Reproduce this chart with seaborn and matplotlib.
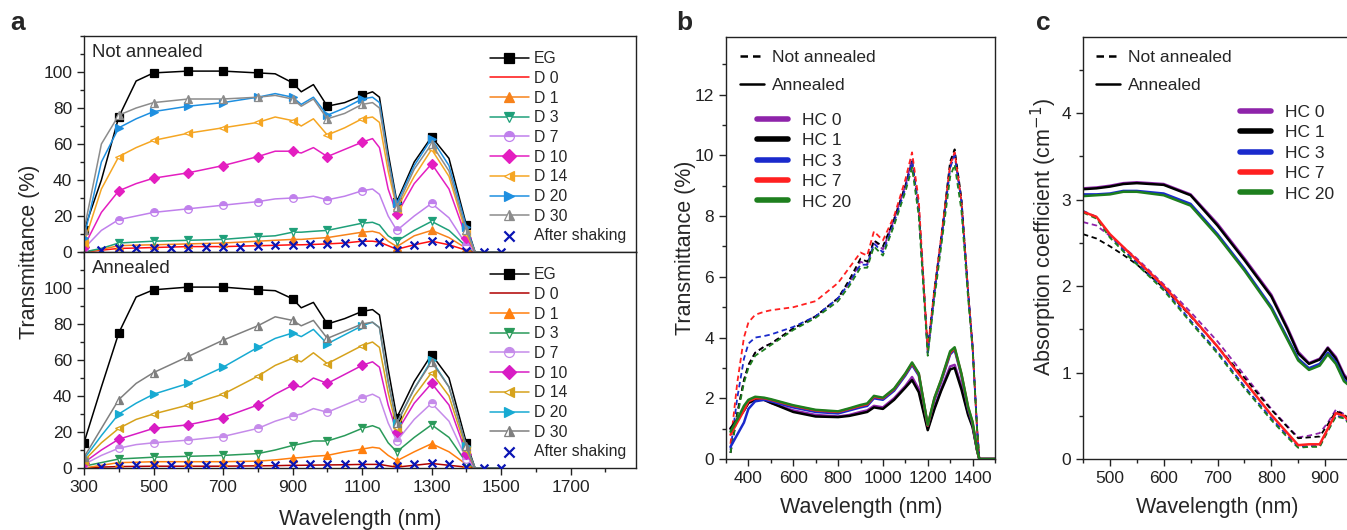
import matplotlib
matplotlib.use("Agg")
import matplotlib.pyplot as plt
from matplotlib.lines import Line2D
from matplotlib.ticker import MultipleLocator
import seaborn as sns

# ---------------- panel a : transmittance of the dye samples ----------------
wl_a = [300, 350, 400, 450, 500, 600, 700, 800, 850, 900, 925, 960, 1000, 1050,
        1100, 1130, 1150, 1175, 1200, 1250, 1300, 1350, 1400, 1425, 1450, 1500]
wl_shake = [350, 400, 450, 500, 550, 600, 650, 700, 750, 800, 850, 900, 950, 1000,
            1050, 1100, 1150, 1200, 1250, 1300, 1350, 1400, 1450, 1500]
labels_a = ['EG', 'D 0', 'D 1', 'D 3', 'D 7', 'D 10', 'D 14', 'D 20', 'D 30']

# not annealed
na_eg = [12, 40, 75, 95, 99.5, 100.5, 100.5, 99.5, 99, 94, 89, 93, 81, 83, 87, 89, 86, 55, 28, 50, 64, 52, 15, 0, 0, 0]
na_d0 = [0, 1, 2, 2.2, 2.5, 3, 3, 3.5, 3.7, 4, 4, 4.2, 4.5, 5, 6, 6, 5.5, 3.5, 1.5, 4, 6, 4, 1, 0, 0, 0]
na_d1 = [0, 1.5, 3.5, 3.8, 4, 4.5, 5, 6, 6.5, 7, 7, 7.5, 8, 9.5, 11, 11.5, 10.5, 6, 3, 9, 12, 8, 2, 0, 0, 0]
na_d3 = [0, 2, 5, 5.5, 6, 6.5, 7, 8.5, 9, 11, 11, 11.5, 12, 14, 16, 16.5, 15, 9, 6, 12, 17, 12, 3, 0, 0, 0]
na_d7 = [2, 12, 18, 20, 22, 24, 26, 28, 29.5, 30, 30, 31, 29, 31, 34, 35, 32, 20, 12, 20, 27, 19, 4, 0, 0, 0]
na_d10 = [3, 22, 34, 38, 41, 44, 48, 53, 56, 56, 55, 58, 53, 57, 61, 63, 58, 35, 21, 38, 49, 35, 8, 0, 0, 0]
na_d14 = [5, 35, 53, 58, 62, 66, 69, 72, 75, 73, 70, 74, 65, 69, 74, 75, 72, 45, 24, 42, 57, 42, 10, 0, 0, 0]
na_d20 = [8, 50, 69, 74, 78, 81, 83, 86, 88, 86, 82, 86, 76, 80, 85, 86, 83, 52, 27, 48, 63, 48, 14, 0, 0, 0]
na_d30 = [12, 60, 76, 80, 83, 85, 85, 86, 87, 85, 81, 85, 74, 77, 82, 83, 80, 50, 25, 46, 60, 45, 12, 0, 0, 0]
na_shake = [1, 2, 2.5, 2.5, 2.5, 2.5, 3, 3, 3, 3.5, 4, 4, 4.5, 4.5, 5, 5.5, 5.5, 1, 4, 6, 4.5, 0.5, 0, 0]

# annealed
an_eg = [14, 45, 75, 95, 99, 100.5, 100.5, 99, 98.5, 94, 89, 92, 80, 83, 87, 88, 85, 55, 28, 48, 63, 50, 14, 0, 0, 0]
an_d0 = [0, 0.5, 0.8, 0.9, 1, 1, 1, 1.2, 1.3, 1.5, 1.5, 1.6, 1.7, 1.8, 2, 2, 2, 1.2, 0.5, 1.5, 2.5, 1.5, 0.5, 0, 0, 0]
an_d1 = [0, 1.5, 3, 3.2, 3.5, 3.5, 3.5, 3.8, 4.5, 5.5, 5.8, 6.5, 7, 9, 10.5, 11.5, 11, 7, 4, 9, 13.5, 9, 2, 0, 0, 0]
an_d3 = [1, 3, 5, 5.5, 6, 6.5, 7, 8, 10, 12.5, 13.5, 15, 15, 18, 22, 23.5, 22, 14, 9, 17, 24, 17, 3, 0, 0, 0]
an_d7 = [2, 7, 11, 13, 14, 15.5, 17.5, 22, 26, 29, 30, 33, 31, 35, 39, 41, 39, 25, 15, 27, 36, 26, 5, 0, 0, 0]
an_d10 = [3, 10, 16, 19, 22, 24, 28, 35, 41, 46, 45, 50, 47, 52, 57, 59, 56, 35, 20, 36, 47, 35, 8, 0, 0, 0]
an_d14 = [4, 14, 22, 27, 30, 35, 41, 51, 57, 61, 59, 64, 58, 63, 68, 70, 67, 42, 22, 40, 53, 40, 10, 0, 0, 0]
an_d20 = [5, 18, 30, 36, 41, 47, 56, 67, 72, 75, 73, 77, 69, 74, 79, 81, 78, 48, 25, 44, 60, 45, 12, 0, 0, 0]
an_d30 = [6, 22, 38, 47, 53, 62, 71, 79, 84, 82, 79, 82, 72, 76, 80, 81, 78, 48, 25, 44, 59, 45, 12, 0, 0, 0]
an_shake = [0.5, 1, 1.5, 1.5, 1.5, 1.5, 1.5, 1.5, 1.5, 1.5, 1.8, 2, 2, 2, 2, 2, 2, 1, 2, 3, 2, 0.5, 0, 0]

# ---------------- panel b : transmittance, HC samples ----------------
wl_b = [320, 350, 380, 400, 430, 470, 500, 600, 700, 800, 850, 900, 930, 960, 1000,
        1050, 1100, 1130, 1160, 1200, 1230, 1260, 1300, 1320, 1350, 1380, 1400, 1420, 1430, 1500]
labels_hc = ['HC 0', 'HC 1', 'HC 3', 'HC 7', 'HC 20']
b_na_hc0 = [0.2, 1.5, 2.6, 3.1, 3.5, 3.7, 3.8, 4.3, 4.7, 5.3, 5.8, 6.5, 6.4, 7.2, 6.9, 7.9, 9.0, 9.9, 8.3, 3.5, 5.5, 7.2, 9.6, 10.1, 8.5, 5.5, 3.7, 1.0, 0, 0]
b_na_hc1 = [0.2, 1.5, 2.6, 3.1, 3.5, 3.7, 3.8, 4.3, 4.7, 5.3, 5.9, 6.6, 6.5, 7.2, 7.0, 7.9, 9.0, 9.8, 8.2, 3.6, 5.6, 7.3, 9.8, 10.2, 8.6, 5.5, 3.7, 1.0, 0, 0]
b_na_hc3 = [0.3, 2.0, 3.3, 3.8, 4.0, 4.05, 4.1, 4.35, 4.7, 5.3, 5.8, 6.4, 6.4, 7.1, 6.8, 7.8, 8.9, 9.8, 8.2, 3.5, 5.5, 7.2, 9.6, 10.0, 8.5, 5.5, 3.7, 1.0, 0, 0]
b_na_hc7 = [0.5, 2.5, 4.0, 4.5, 4.75, 4.85, 4.9, 5.0, 5.2, 5.8, 6.3, 6.8, 6.7, 7.5, 7.2, 8.0, 9.2, 10.1, 8.5, 3.6, 5.6, 7.3, 9.7, 10.1, 8.5, 5.5, 3.7, 1.0, 0, 0]
b_na_hc20 = [0.2, 1.4, 2.5, 3.0, 3.4, 3.6, 3.75, 4.25, 4.65, 5.2, 5.7, 6.3, 6.3, 7.0, 6.7, 7.7, 8.8, 9.6, 8.0, 3.4, 5.3, 7.0, 9.3, 9.7, 8.2, 5.3, 3.6, 1.0, 0, 0]
b_an_hc0 = [1.0, 1.3, 1.6, 1.85, 1.95, 1.95, 1.85, 1.6, 1.45, 1.4, 1.45, 1.55, 1.6, 1.75, 1.7, 2.0, 2.4, 2.7, 2.3, 1.0, 1.7, 2.3, 3.05, 3.1, 2.4, 1.5, 1.1, 0.3, 0, 0]
b_an_hc1 = [1.0, 1.3, 1.6, 1.85, 1.95, 1.95, 1.85, 1.55, 1.4, 1.38, 1.42, 1.5, 1.55, 1.7, 1.65, 1.95, 2.35, 2.6, 2.2, 0.95, 1.65, 2.25, 2.95, 3.0, 2.3, 1.45, 1.05, 0.3, 0, 0]
b_an_hc3 = [0.4, 0.8, 1.2, 1.65, 1.9, 1.95, 1.9, 1.7, 1.55, 1.5, 1.6, 1.7, 1.75, 2.0, 1.95, 2.25, 2.75, 3.1, 2.75, 1.1, 1.95, 2.55, 3.45, 3.6, 2.75, 1.65, 1.15, 0.3, 0, 0]
b_an_hc7 = [0.8, 1.2, 1.6, 1.9, 2.0, 2.0, 1.95, 1.75, 1.6, 1.55, 1.65, 1.75, 1.8, 2.05, 2.0, 2.3, 2.8, 3.15, 2.8, 1.1, 2.0, 2.6, 3.5, 3.65, 2.8, 1.7, 1.2, 0.3, 0, 0]
b_an_hc20 = [0.9, 1.3, 1.75, 1.95, 2.05, 2.02, 1.97, 1.77, 1.62, 1.57, 1.67, 1.78, 1.83, 2.08, 2.02, 2.32, 2.82, 3.18, 2.82, 1.12, 2.02, 2.62, 3.55, 3.68, 2.82, 1.72, 1.22, 0.3, 0, 0]

# ---------------- panel c : absorption coefficient ----------------
wl_c = [450, 475, 500, 525, 550, 600, 650, 700, 750, 800, 830, 850, 870, 890, 905, 920, 935, 950]
c_an_hc0 = [3.13, 3.14, 3.16, 3.19, 3.2, 3.18, 3.06, 2.72, 2.32, 1.9, 1.52, 1.24, 1.11, 1.16, 1.29, 1.18, 0.98, 0.86]
c_an_hc1 = [3.12, 3.13, 3.15, 3.18, 3.19, 3.17, 3.05, 2.7, 2.3, 1.88, 1.5, 1.22, 1.1, 1.15, 1.28, 1.16, 0.96, 0.85]
c_an_hc3 = [3.06, 3.06, 3.07, 3.1, 3.1, 3.07, 2.95, 2.6, 2.2, 1.76, 1.4, 1.16, 1.05, 1.1, 1.23, 1.12, 0.92, 0.83]
c_an_hc7 = [2.86, 2.8, 2.6, 2.45, 2.3, 2.0, 1.66, 1.3, 0.9, 0.51, 0.3, 0.16, 0.17, 0.17, 0.35, 0.53, 0.5, 0.4]
c_an_hc20 = [3.04, 3.05, 3.06, 3.09, 3.09, 3.05, 2.93, 2.58, 2.18, 1.74, 1.38, 1.14, 1.03, 1.08, 1.21, 1.1, 0.9, 0.82]
c_na_hc0 = [2.74, 2.7, 2.58, 2.45, 2.32, 2.02, 1.7, 1.36, 0.97, 0.58, 0.38, 0.25, 0.27, 0.3, 0.42, 0.57, 0.52, 0.42]
c_na_hc1 = [2.6, 2.55, 2.46, 2.36, 2.25, 1.98, 1.65, 1.3, 0.94, 0.57, 0.37, 0.24, 0.25, 0.26, 0.4, 0.55, 0.52, 0.42]
c_na_hc3 = [2.87, 2.8, 2.58, 2.42, 2.27, 1.97, 1.6, 1.24, 0.84, 0.47, 0.27, 0.14, 0.15, 0.15, 0.33, 0.5, 0.48, 0.38]
c_na_hc20 = [2.85, 2.78, 2.56, 2.4, 2.25, 1.95, 1.58, 1.22, 0.82, 0.45, 0.25, 0.13, 0.14, 0.14, 0.32, 0.49, 0.47, 0.37]

# styles
top_colors = ['#000000', '#FF1010', '#F7821B', '#1FA07A', '#C080EC', '#E41EC0', '#F5A623', '#1E8FE0', '#8C8C8C']
bot_colors = ['#000000', '#B00000', '#FF7F0E', '#2A9A5A', '#C58BEA', '#D81CC4', '#D6A21C', '#17AAD2', '#7F7F7F']
markers_a = ['s', None, '^', 'v', 'o', 'D', '<', '>', '^']
fills_a = ['full', 'full', 'full', 'top', 'top', 'full', 'right', 'full', 'right']
shake_color = '#0A14B4'
hc_colors = ['#8E24AA', '#000000', '#1A2ACC', '#FF2020', '#1E7F1E']

sns.set_style("ticks")
plt.rcParams['font.family'] = ['Liberation Sans', 'DejaVu Sans']
plt.rcParams['axes.linewidth'] = 1.0
plt.rcParams['axes.edgecolor'] = '#222222'

W, H = 1347, 530
fig = plt.figure(figsize=(W / 100, H / 100), dpi=100)


def box(l, t, r, b):
    return [l / W, (H - b) / H, (r - l) / W, (b - t) / H]


def style_ax(ax):
    for s in ax.spines.values():
        s.set_visible(True)
    ax.tick_params(which='both', direction='out', width=1, colors='#222222', labelsize=12.5)
    ax.tick_params(which='major', length=5)
    ax.tick_params(which='minor', length=3)


mk_idx = [i for i, w in enumerate(wl_a) if w % 100 == 0 and w <= 1400]


def panel_a(ax, series, shake, colors, title):
    for lab, y, c, m, f in zip(labels_a, series, colors, markers_a, fills_a):
        kw = dict(color=c, linewidth=1.1, sort=False, estimator=None, legend=False, label=lab, ax=ax)
        if m:
            kw.update(marker=m, markevery=mk_idx, markersize=5.5, fillstyle=f,
                      markerfacecolor=c, markerfacecoloralt='white',
                      markeredgecolor=c, markeredgewidth=0.9)
        sns.lineplot(x=wl_a, y=y, **kw)
    sns.scatterplot(x=wl_shake, y=shake, marker='x', color=shake_color, s=32, linewidth=1.6,
                    ax=ax, label='After shaking', legend=False, zorder=5)
    ax.set_xlim(300, 1888)
    ax.set_ylim(0, 120)
    ax.set_xticks(range(300, 1800, 200))
    ax.set_xticks(range(400, 1900, 200), minor=True)
    ax.yaxis.set_minor_locator(MultipleLocator(10))
    ax.set_yticks([0, 20, 40, 60, 80, 100])
    style_ax(ax)
    ax.text(0.015, 0.925, title, transform=ax.transAxes, va='center', fontsize=13.4)
    ax.legend(loc='upper left', bbox_to_anchor=(0.735, 0.93), frameon=False, fontsize=11.3,
              handlelength=2.5, handletextpad=0.3, labelspacing=0.3, borderpad=0,
              borderaxespad=0, markerscale=1.3)


ax_a1 = fig.add_axes(box(84, 36, 636, 252))
ax_a2 = fig.add_axes(box(84, 252, 636, 468))
panel_a(ax_a1, [na_eg, na_d0, na_d1, na_d3, na_d7, na_d10, na_d14, na_d20, na_d30], na_shake,
        top_colors, 'Not annealed')
panel_a(ax_a2, [an_eg, an_d0, an_d1, an_d3, an_d7, an_d10, an_d14, an_d20, an_d30], an_shake,
        bot_colors, 'Annealed')
ax_a1.tick_params(axis='x', labelbottom=False)


def hc_legends(ax, x1, y1, x2, y2):
    style_handles = [Line2D([], [], color='black', lw=1.8, ls=(0, (3, 2))),
                     Line2D([], [], color='black', lw=1.8)]
    leg1 = ax.legend(style_handles, ['Not annealed', 'Annealed'], loc='upper left',
                     bbox_to_anchor=(x1, y1), frameon=False, fontsize=12.5, handlelength=1.4,
                     handletextpad=0.45, labelspacing=0.75, borderpad=0, borderaxespad=0)
    ax.add_artist(leg1)
    hc_handles = [Line2D([], [], color=c, lw=4) for c in hc_colors]
    ax.legend(hc_handles, labels_hc, loc='upper left', bbox_to_anchor=(x2, y2), frameon=False,
              fontsize=12.5, handlelength=1.8, handletextpad=0.8, labelspacing=0.3,
              borderpad=0, borderaxespad=0)


# panel b
ax_b = fig.add_axes(box(726, 37, 995, 459))
for y, c in zip([b_na_hc0, b_na_hc1, b_na_hc3, b_na_hc7, b_na_hc20], hc_colors):
    sns.lineplot(x=wl_b, y=y, color=c, linewidth=1.3, linestyle=(0, (3, 2)), sort=False,
                 estimator=None, legend=False, ax=ax_b)
for y, c in zip([b_an_hc0, b_an_hc1, b_an_hc3, b_an_hc7, b_an_hc20], hc_colors):
    sns.lineplot(x=wl_b, y=y, color=c, linewidth=1.8, sort=False, estimator=None,
                 legend=False, ax=ax_b)
ax_b.set_xlim(300, 1500)
ax_b.set_ylim(0, 13.9)
ax_b.set_xticks(range(400, 1500, 200))
ax_b.xaxis.set_minor_locator(MultipleLocator(100))
ax_b.set_yticks(range(0, 13, 2))
ax_b.yaxis.set_minor_locator(MultipleLocator(1))
style_ax(ax_b)
hc_legends(ax_b, 0.052, 0.969, 0.115, 0.82)

# panel c (right edge runs past the figure, as in the cropped original)
ax_c = fig.add_axes(box(1083, 37, 1352, 459))
for y, c in zip([c_na_hc0, c_na_hc1, c_na_hc3, c_na_hc20], [hc_colors[0], hc_colors[1], hc_colors[2], hc_colors[4]]):
    sns.lineplot(x=wl_c, y=y, color=c, linewidth=1.3, linestyle=(0, (3, 2)), sort=False,
                 estimator=None, legend=False, ax=ax_c)
for y, c in zip([c_an_hc0, c_an_hc1, c_an_hc3, c_an_hc20, c_an_hc7],
                [hc_colors[0], hc_colors[1], hc_colors[2], hc_colors[4], hc_colors[3]]):
    sns.lineplot(x=wl_c, y=y, color=c, linewidth=1.8, sort=False, estimator=None,
                 legend=False, ax=ax_c)
ax_c.set_xlim(450, 950)
ax_c.set_ylim(0, 4.88)
ax_c.set_xticks(range(500, 950, 100))
ax_c.xaxis.set_minor_locator(MultipleLocator(50))
ax_c.set_yticks(range(0, 5))
ax_c.yaxis.set_minor_locator(MultipleLocator(0.5))
style_ax(ax_c)
hc_legends(ax_c, 0.048, 0.969, 0.584, 0.839)

# axis titles and panel letters
fig.text(30 / W, (H - 252) / H, 'Transmittance (%)', rotation=90, ha='center', va='center', fontsize=15.5)
fig.text(360 / W, (H - 519) / H, 'Wavelength (nm)', ha='center', va='center', fontsize=15.5)
fig.text(686 / W, (H - 248) / H, 'Transmittance (%)', rotation=90, ha='center', va='center', fontsize=15.5)
fig.text(861 / W, (H - 508) / H, 'Wavelength (nm)', ha='center', va='center', fontsize=15.5)
fig.text(1044 / W, (H - 237) / H, 'Absorption coefficient (cm$^{-1}$)', rotation=90, ha='center',
         va='center', fontsize=15.5)
fig.text(1217 / W, (H - 508) / H, 'Wavelength (nm)', ha='center', va='center', fontsize=15.5)
for x, letter in [(10, 'a'), (676, 'b'), (1036, 'c')]:
    fig.text(x / W, (H - 30) / H, letter, fontsize=19, fontweight='bold', va='baseline')

fig.savefig('out.png', dpi=100)
